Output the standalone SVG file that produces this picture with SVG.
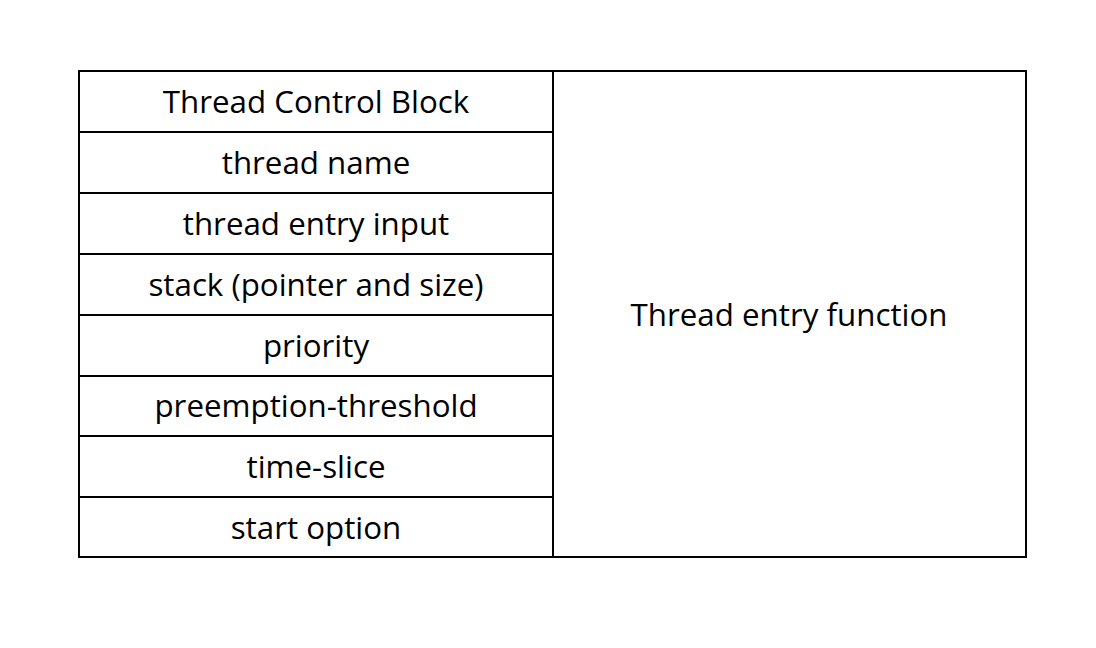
<svg xmlns="http://www.w3.org/2000/svg" width="1096" height="648" viewBox="0 0 1096 648">
  <style>
    .cell { fill: #ffffff; stroke: #000000; stroke-width: 2; }
    .lbl { font-family: "Open Sans", "Noto Sans", "DejaVu Sans", sans-serif; font-size: 31.3px; fill: #000000; text-anchor: middle; dominant-baseline: central; }
  </style>
  <rect width="1096" height="648" fill="#ffffff"/>
  <g id="tcb-header"><rect class="cell" x="79" y="71" width="474" height="61"/><text class="lbl" x="316" y="101">Thread Control Block</text></g>
  <g id="thread-name"><rect class="cell" x="79" y="132" width="474" height="61"/><text class="lbl" x="316" y="162">thread name</text></g>
  <g id="entry-input"><rect class="cell" x="79" y="193" width="474" height="61"/><text class="lbl" x="316" y="223">thread entry input</text></g>
  <g id="stack"><rect class="cell" x="79" y="254" width="474" height="61"/><text class="lbl" x="316" y="284">stack (pointer and size)</text></g>
  <g id="priority"><rect class="cell" x="79" y="315" width="474" height="61"/><text class="lbl" x="316" y="345">priority</text></g>
  <g id="preemption"><rect class="cell" x="79" y="376" width="474" height="60"/><text class="lbl" x="316" y="405">preemption-threshold</text></g>
  <g id="time-slice"><rect class="cell" x="79" y="436" width="474" height="61"/><text class="lbl" x="316" y="466">time-slice</text></g>
  <g id="start-option"><rect class="cell" x="79" y="497" width="474" height="60"/><text class="lbl" x="316" y="527">start option</text></g>
  <g id="entry-function"><rect class="cell" x="553" y="71" width="473" height="486"/><text class="lbl" x="789" y="314">Thread entry function</text></g>
  <g id="connectors"/>
</svg>
